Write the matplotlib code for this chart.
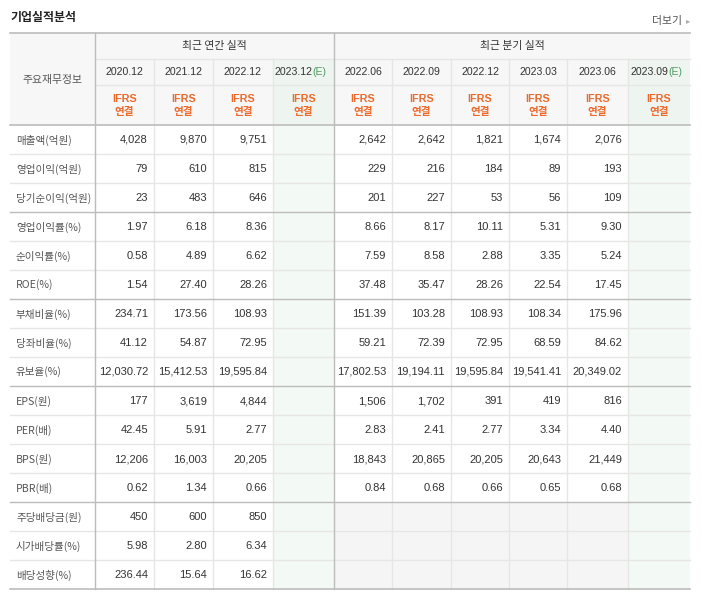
import matplotlib
matplotlib.use("Agg")
import matplotlib.pyplot as plt
from matplotlib.patches import Rectangle

plt.rcParams['font.family'] = ['Noto Sans CJK KR', 'DejaVu Sans']

# ---------------- data ----------------
title = "기업실적분석"
more_label = "더보기"
row_header = "주요재무정보"
annual_group = "최근 연간 실적"
quarter_group = "최근 분기 실적"
annual_periods = ["2020.12", "2021.12", "2022.12", "2023.12"]
quarter_periods = ["2022.06", "2022.09", "2022.12", "2023.03", "2023.06", "2023.09"]
estimate_flags = [False, False, False, True, False, False, False, False, False, True]
row_labels = ["매출액(억원)", "영업이익(억원)", "당기순이익(억원)", "영업이익률(%)", "순이익률(%)",
              "ROE(%)", "부채비율(%)", "당좌비율(%)", "유보율(%)", "EPS(원)", "PER(배)",
              "BPS(원)", "PBR(배)", "주당배당금(원)", "시가배당률(%)", "배당성향(%)"]
annual_values = [
    ["4,028", "9,870", "9,751", ""],
    ["79", "610", "815", ""],
    ["23", "483", "646", ""],
    ["1.97", "6.18", "8.36", ""],
    ["0.58", "4.89", "6.62", ""],
    ["1.54", "27.40", "28.26", ""],
    ["234.71", "173.56", "108.93", ""],
    ["41.12", "54.87", "72.95", ""],
    ["12,030.72", "15,412.53", "19,595.84", ""],
    ["177", "3,619", "4,844", ""],
    ["42.45", "5.91", "2.77", ""],
    ["12,206", "16,003", "20,205", ""],
    ["0.62", "1.34", "0.66", ""],
    ["450", "600", "850", ""],
    ["5.98", "2.80", "6.34", ""],
    ["236.44", "15.64", "16.62", ""],
]
quarter_values = [
    ["2,642", "2,642", "1,821", "1,674", "2,076", ""],
    ["229", "216", "184", "89", "193", ""],
    ["201", "227", "53", "56", "109", ""],
    ["8.66", "8.17", "10.11", "5.31", "9.30", ""],
    ["7.59", "8.58", "2.88", "3.35", "5.24", ""],
    ["37.48", "35.47", "28.26", "22.54", "17.45", ""],
    ["151.39", "103.28", "108.93", "108.34", "175.96", ""],
    ["59.21", "72.39", "72.95", "68.59", "84.62", ""],
    ["17,802.53", "19,194.11", "19,595.84", "19,541.41", "20,349.02", ""],
    ["1,506", "1,702", "391", "419", "816", ""],
    ["2.83", "2.41", "2.77", "3.34", "4.40", ""],
    ["18,843", "20,865", "20,205", "20,643", "21,449", ""],
    ["0.84", "0.68", "0.66", "0.65", "0.68", ""],
    ["", "", "", "", "", ""],
    ["", "", "", "", "", ""],
    ["", "", "", "", "", ""],
]
group_sizes = [3, 3, 3, 4, 3]
no_quarter_rows = [13, 14, 15]

# ---------------- layout / style ----------------
W, H = 702, 595
col_edges = [10, 95, 154, 213, 273, 334, 392, 451, 509, 567, 628, 690]
y_top, y_r1, y_r2, y_head = 33, 59, 85, 125
row_h = 29
n_rows = len(row_labels)
y_bottom = y_head + row_h * n_rows

C_TEXT = "#333333"
C_LABEL = "#555555"
C_ORANGE = "#eb6a2c"
C_GREEN_T = "#4f9a5e"
C_HEAD_BG = "#f7f7f7"
C_EST_HEAD = "#eef5f0"
C_EST_BG = "#f3f9f4"
C_GRAY_BG = "#f5f5f5"
C_DARK = "#bcbcbc"
C_LIGHT = "#e6e6e6"

fig = plt.figure(figsize=(W / 100, H / 100), dpi=100)
ax = fig.add_axes([0, 0, 1, 1])
ax.set_xlim(0, W)
ax.set_ylim(H, 0)
ax.axis("off")

def rect(x0, y0, x1, y1, color):
    ax.add_patch(Rectangle((x0, y0), x1 - x0, y1 - y0, facecolor=color, edgecolor="none", zorder=0))

# backgrounds
rect(col_edges[0], y_top, col_edges[-1], y_head, C_HEAD_BG)
for j, est in enumerate(estimate_flags):
    x0, x1 = col_edges[j + 1], col_edges[j + 2]
    if est:
        rect(x0, y_r1, x1, y_head, C_EST_HEAD)
        rect(x0, y_head, x1, y_bottom, C_EST_BG)
for r in no_quarter_rows:
    for j in range(len(annual_periods), len(estimate_flags)):
        if not estimate_flags[j]:
            rect(col_edges[j + 1], y_head + r * row_h, col_edges[j + 2], y_head + (r + 1) * row_h, C_GRAY_BG)

# horizontal lines
group_ends = []
acc = 0
for g in group_sizes:
    acc += g
    group_ends.append(acc)
for r in range(1, n_rows):
    y = y_head + r * row_h
    if r in group_ends:
        ax.plot([col_edges[0], col_edges[-1]], [y, y], color=C_DARK, lw=1.0, zorder=2)
    else:
        ax.plot([col_edges[0], col_edges[-1]], [y, y], color=C_LIGHT, lw=1.0, zorder=1)
for y in (y_r1, y_r2):
    ax.plot([col_edges[1], col_edges[-1]], [y, y], color=C_LIGHT, lw=1.0, zorder=1)
for y in (y_top, y_head, y_bottom):
    ax.plot([col_edges[0], col_edges[-1]], [y, y], color=C_DARK, lw=1.2, zorder=3)

# vertical lines
for k, x in enumerate(col_edges[1:-1], start=1):
    if k in (1, 1 + len(annual_periods)):
        ax.plot([x, x], [y_top, y_bottom], color=C_DARK, lw=1.0, zorder=2)
    else:
        ax.plot([x, x], [y_r1, y_bottom], color=C_LIGHT, lw=1.0, zorder=1)

# title and more-link
ax.text(10, 17, title, fontsize=8.6, fontweight="bold", color="#222222", ha="left", va="center")
ax.text(682, 21, more_label, fontsize=7.8, color="#555555", ha="right", va="center")
ax.text(688, 21, "▸", fontsize=6, color="#aaaaaa", ha="center", va="center", family="DejaVu Sans")

# header texts
ax.text((col_edges[0] + col_edges[1]) / 2, (y_top + y_head) / 2 + 1, row_header,
        fontsize=7.8, color=C_LABEL, ha="center", va="center")
na = len(annual_periods)
ax.text((col_edges[1] + col_edges[1 + na]) / 2, (y_top + y_r1) / 2, annual_group,
        fontsize=7.8, color=C_TEXT, ha="center", va="center")
ax.text((col_edges[1 + na] + col_edges[-1]) / 2, (y_top + y_r1) / 2, quarter_group,
        fontsize=7.8, color=C_TEXT, ha="center", va="center")

periods = annual_periods + quarter_periods
for j, p in enumerate(periods):
    xc = (col_edges[j + 1] + col_edges[j + 2]) / 2
    yc = (y_r1 + y_r2) / 2
    if estimate_flags[j]:
        t1 = ax.text(xc + 9, yc, p, fontsize=7.6, color=C_TEXT, ha="right", va="center",
                     family="Liberation Sans")
        ax.text(xc + 9, yc, "(E)", fontsize=7.6, color=C_GREEN_T, ha="left", va="center",
                family="Liberation Sans")
    else:
        ax.text(xc, yc, p, fontsize=7.6, color=C_TEXT, ha="center", va="center",
                family="Liberation Sans")
    ax.text(xc, 99, "IFRS", fontsize=7.8, color=C_ORANGE, ha="center", va="center",
            fontweight="bold", family="Liberation Sans")
    ax.text(xc, 112, "연결", fontsize=7.6, color=C_ORANGE, ha="center", va="center",
            fontweight="bold")

# body
for r, label in enumerate(row_labels):
    yc = y_head + r * row_h + row_h / 2 + 0.5
    ax.text(16, yc, label, fontsize=7.6, color=C_LABEL, ha="left", va="center")
    vals = annual_values[r] + quarter_values[r]
    for j, v in enumerate(vals):
        if v:
            ax.text(col_edges[j + 2] - 6, yc, v, fontsize=8.0, color=C_TEXT, ha="right",
                    va="center", family="Liberation Sans")

fig.savefig("out.png", dpi=100)
